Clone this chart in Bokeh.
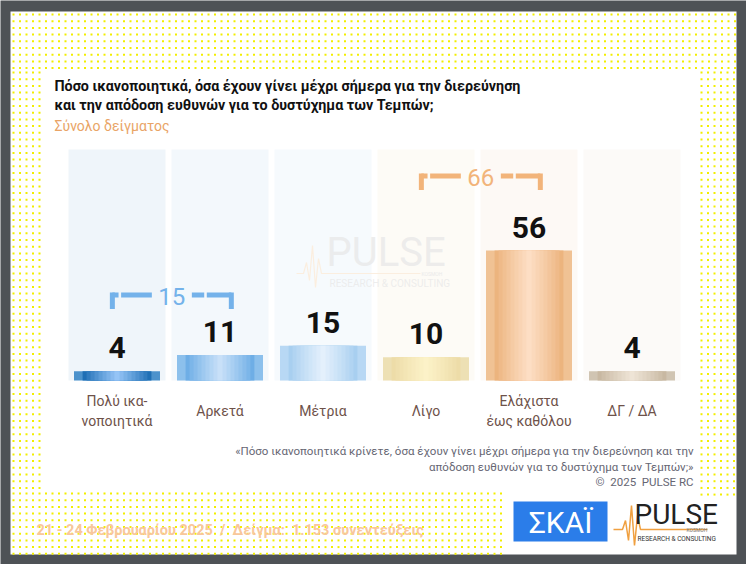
import numpy as np
from bokeh.plotting import figure
from bokeh.models import Range1d
from bokeh.core.properties import value
from bokeh.embed import file_html
from bokeh.resources import INLINE

NB = "\u00a0"

# ---------------- data ----------------
categories = ["Πολύ ικα-\nνοποιητικά", "Αρκετά", "Μέτρια", "Λίγο", "Ελάχιστα\nέως καθόλου", "ΔΓ / ΔΑ"]
values = [4, 11, 15, 10, 56, 4]
group_low = [0, 1]      # bracketed categories (sum shown)
group_high = [3, 4]
title_lines = ["Πόσο ικανοποιητικά, όσα έχουν γίνει μέχρι σήμερα για την διερεύνηση",
               "και την απόδοση ευθυνών για το δυστύχημα των Τεμπών;"]
subtitle = "Σύνολο δείγματος"
source_lines = ["«Πόσο ικανοποιητικά κρίνετε, όσα έχουν γίνει μέχρι σήμερα για την διερεύνηση και την",
                "απόδοση ευθυνών για το δυστύχημα των Τεμπών;»",
                "©" + NB + " 2025" + NB + " PULSE RC"]
footer = "21 - 24 Φεβρουαρίου 2025" + NB + " /" + NB + " Δείγμα:" + NB + " 1.153 συνεντεύξεις"

# ---------------- styles ----------------
edge_colors = ["#4c92cc", "#8cc0ec", "#b8d8f4", "#ede0b4", "#f0c294", "#d0c4b2"]
dark_colors = ["#1f6fb5", "#6eaee6", "#a8cff0", "#eddca8", "#ecb47e", "#c8b8a2"]
light_colors = ["#95c4f6", "#c8e0f8", "#e4f0fc", "#fcf2c8", "#fddec4", "#eee4d6"]
column_colors = ["#eff5fa", "#f3f8fc", "#f6fafd", "#fdfbf6", "#fdf9f5", "#fcfaf8"]
FONT = value("Roboto")

W, H = 746, 564
STEP, X0 = 103.0, 116.5          # px between bars, px of first centre
BASE, PXU = 380.0, 2.32          # baseline px, px per percentage point
LABEL_GAP = 13.0                 # px between bar top and value label

p = figure(width=W, height=H, x_range=Range1d(0, W), y_range=Range1d(H, 0),
           output_backend="svg", toolbar_location=None, min_border=0)
p.axis.visible = False
p.grid.visible = False
p.outline_line_color = None
p.background_fill_color = "#4e5256"
p.border_fill_color = "#4e5256"
p.extra_x_ranges = {"bx": Range1d(-X0 / STEP, (W - X0) / STEP)}
p.extra_y_ranges = {"by": Range1d(-(H - BASE) / PXU, BASE / PXU)}

# slide
p.quad(left=10, right=736, top=11, bottom=554, fill_color="white", line_color=None)

# dotted background texture (decoration only)
dx, dy = [], []
for (l, r, t, b) in [(13, 736, 14, 72), (13, 43, 72, 493), (701, 736, 72, 497), (13, 507, 493, 554)]:
    gx, gy = np.meshgrid(np.arange(l, r, 6.5), np.arange(t, b, 6.7))
    dx.extend(gx.ravel().tolist())
    dy.extend(gy.ravel().tolist())
p.scatter(x=dx, y=dy, marker="square", size=2, fill_color="#f2ee00", line_color=None, alpha=1.0)

idx = list(range(len(values)))

# column panels
p.vbar(x=idx, width=97 / STEP, top=149, bottom=BASE, x_range_name="bx",
       fill_color=column_colors, line_color=None)

# watermark
p.line(x=[296, 303, 306, 309, 312, 315, 318, 321, 420], y=[273, 273, 262, 280, 245, 287, 258, 273, 273],
       line_color="#fbeedf", line_width=1.2)
p.text(x=[326], y=[252], text=["PULSE"], text_font=FONT, text_font_size="40px",
       text_color="#e6e6e6", text_alpha=0.7, text_baseline="middle")
p.text(x=[329], y=[283], text=["RESEARCH & CONSULTING"], text_font=FONT, text_font_size="10px",
       text_color="#e6e6e6", text_alpha=0.7, text_baseline="middle")
p.text(x=[421], y=[273], text=["KOSMOH"], text_font=FONT, text_font_size="5px",
       text_color="#eaeaea", text_baseline="middle")

# bars with cylindrical shading
def mix(c1, c2, t):
    a = [int(c1[i:i + 2], 16) for i in (1, 3, 5)]
    b = [int(c2[i:i + 2], 16) for i in (1, 3, 5)]
    return "#%02x%02x%02x" % tuple(round(a[k] + (b[k] - a[k]) * t) for k in range(3))

BW = 86 / STEP
p.vbar(x=idx, width=BW, top=values, bottom=0, x_range_name="bx", y_range_name="by",
       fill_color=edge_colors, line_color=None)
n = 9
for k in range(n):
    frac = 0.80 - k * (0.74 / (n - 1))
    t = (k / (n - 1)) ** 0.9
    cols = [mix(d, l, t) for d, l in zip(dark_colors, light_colors)]
    p.vbar(x=idx, width=BW * frac, top=values, bottom=0, x_range_name="bx", y_range_name="by",
           fill_color=cols, line_color=None)

# value labels
p.text(x=idx, y=[v + LABEL_GAP / PXU for v in values], text=[str(v) for v in values],
       x_range_name="bx", y_range_name="by", text_align="center", text_baseline="bottom",
       text_font=FONT, text_font_style="bold", text_font_size="30px", text_color="#111111")

# category labels
p.text(x=idx, y=[410] * len(idx), text=categories, x_range_name="bx", text_align="center",
       text_baseline="middle", text_font=FONT, text_font_size="14px", text_color="#6e524a",
       text_line_height=1.25)

# brackets
def bracket(group, y_px, color):
    left = group[0] - 0.045
    right = group[-1] + 0.11
    mid = (left + right) / 2
    gap = 20 / STEP
    xs = [[left, left], [left, left + 0.06], [left + 0.085, mid - gap],
          [mid + gap, mid + gap + 0.12], [mid + gap + 0.145, right], [right, right]]
    ys = [[y_px - 2.5, y_px + 14], [y_px, y_px], [y_px, y_px],
          [y_px, y_px], [y_px, y_px], [y_px - 2.5, y_px + 14]]
    p.multi_line(xs=xs, ys=ys, x_range_name="bx", line_color=color, line_width=5)
    total = sum(values[i] for i in group)
    p.text(x=[mid], y=[y_px + 1], text=[str(total)], x_range_name="bx", text_align="center",
           text_baseline="middle", text_font=FONT, text_font_size="24px", text_color=color)

bracket(group_low, 294.5, "#74b2ea")
bracket(group_high, 175.5, "#f2b47a")

# titles
p.text(x=[54, 54], y=[85, 104], text=title_lines, text_font=FONT, text_font_style="bold",
       text_font_size="14.3px", text_color="#111111", text_baseline="middle")
p.text(x=[54], y=[125], text=[subtitle], text_font=FONT, text_font_size="14px",
       text_color="#e9a466", text_baseline="middle")

# source note
p.text(x=[693] * 3, y=[450, 466, 481], text=source_lines, text_font=FONT, text_font_size="11.5px",
       text_color="#666673", text_align="right", text_baseline="middle")

# footer
p.text(x=[36], y=[530], text=[footer], text_font=FONT, text_font_style="bold",
       text_font_size="14.5px", text_color="#f8c79c", text_baseline="middle")

# SKAI logo
p.quad(left=513, right=607, top=501, bottom=541, fill_color="#2b7de9", line_color=None)
p.text(x=[560], y=[522], text=["ΣΚΑΪ"], text_font=FONT, text_font_size="30px",
       text_color="white", text_align="center", text_baseline="middle")

# PULSE logo
p.line(x=[613, 622, 625, 628, 631, 634, 637, 640, 707], y=[529, 529, 520, 540, 505, 545, 515, 529, 529],
       line_color="#f0a040", line_width=1.5)
p.text(x=[634], y=[514], text=["PULSE"], text_font=FONT, text_font_size="28px",
       text_color="#222222", text_baseline="middle")
p.text(x=[686], y=[529], text=["KOSMOH"], text_font=FONT, text_font_size="5px",
       text_color="#777777", text_baseline="middle")
p.text(x=[637], y=[538], text=["RESEARCH & CONSULTING"], text_font=FONT, text_font_size="6.5px",
       text_color="#333333", text_baseline="middle")

open("out.html", "w").write(file_html(p, INLINE))
